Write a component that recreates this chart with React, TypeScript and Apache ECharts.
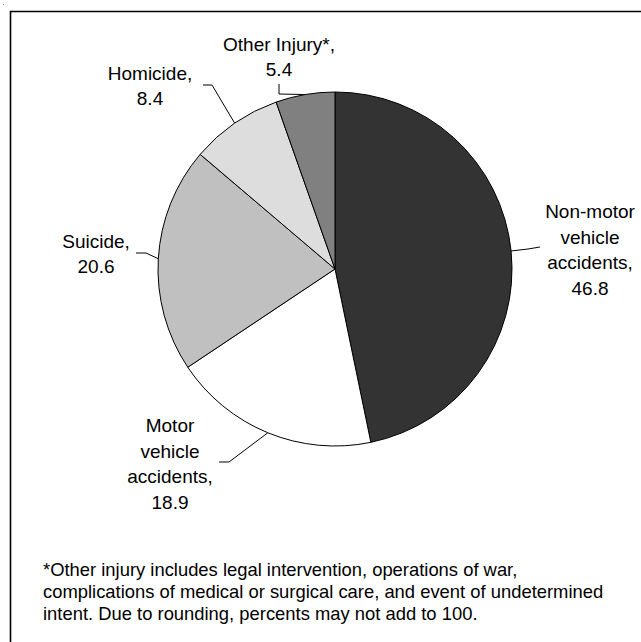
import React, { useEffect, useRef } from "react";
import * as echarts from "echarts";

const categories = [
  "Non-motor vehicle accidents",
  "Motor vehicle accidents",
  "Suicide",
  "Homicide",
  "Other Injury*",
];
const labelNames = [
  "Non-motor\nvehicle\naccidents",
  "Motor\nvehicle\naccidents",
  "Suicide",
  "Homicide",
  "Other Injury*",
];
const values = [46.8, 18.9, 20.6, 8.4, 5.4];
const sliceColors = ["#333333", "#ffffff", "#c0c0c0", "#dddddd", "#808080"];
const footnoteLines = [
  "*Other injury includes legal intervention, operations of war,",
  "complications of medical or surgical care, and event of undetermined",
  "intent. Due to rounding, percents may not add to 100.",
];

const CX = 335;
const CY = 269;
const R = 177;
const FONT = "'Liberation Sans', Arial, Helvetica, sans-serif";

// label block centre, and the leader line's bend and end points
const labelPlacement = [
  { x: 590, y: 250, bend: [528, 249], end: [540, 247] },
  { x: 170, y: 464, bend: [229, 462], end: [219, 462] },
  { x: 96, y: 254, bend: [146, 253], end: [136, 253] },
  { x: 150, y: 86, bend: [212, 85], end: [203, 85] },
  { x: 279, y: 57, bend: [279, 94], end: [279, 84] },
];

function edgePoint(i: number): number[] {
  const total = values.reduce((a, b) => a + b, 0);
  let before = 0;
  for (let k = 0; k < i; k++) before += values[k];
  const th = ((before + values[i] / 2) / total) * Math.PI * 2;
  return [CX + R * Math.sin(th), CY - R * Math.cos(th)];
}

export default function App() {
  const ref = useRef<HTMLDivElement>(null);
  useEffect(() => {
    if (!ref.current) return;
    const chart = echarts.init(ref.current, undefined, { renderer: "svg" });
    chart.setOption({
      animation: false,
      backgroundColor: "#ffffff",
      graphic: [
        {
          type: "rect",
          shape: { x: 10.5, y: 11.5, width: 700, height: 700 },
          style: { fill: "none", stroke: "#000", lineWidth: 1.6 },
          silent: true,
        },
        {
          type: "rect",
          shape: { x: 3, y: 4, width: 1, height: 1 },
          style: { fill: "#888" },
          silent: true,
        },
        {
          type: "text",
          left: 43,
          top: 558,
          style: {
            text: footnoteLines.join("\n"),
            fontSize: 18.4,
            fontFamily: FONT,
            lineHeight: 22,
            fill: "#000",
          },
          silent: true,
        },
      ],
      series: [
        {
          type: "pie",
          center: [CX, CY],
          radius: R,
          startAngle: 90,
          clockwise: true,
          avoidLabelOverlap: false,
          silent: true,
          emphasis: { disabled: true, scale: false },
          data: values.map((v, i) => ({
            name: categories[i],
            value: v,
            itemStyle: { color: sliceColors[i] },
          })),
          itemStyle: { borderColor: "#000", borderWidth: 1 },
          label: {
            show: true,
            position: "outside",
            formatter: (p: any) => `${labelNames[p.dataIndex]},\n${p.value}`,
            color: "#000",
            fontFamily: FONT,
            fontSize: 19,
            lineHeight: 25.5,
            align: "center",
          },
          labelLine: {
            show: true,
            length: 10,
            length2: 10,
            lineStyle: { color: "#000", width: 1 },
          },
          labelLayout: (params: any) => {
            const i = params.dataIndex;
            const pl = labelPlacement[i];
            const edge =
              params.labelLinePoints && params.labelLinePoints[0]
                ? [params.labelLinePoints[0][0], params.labelLinePoints[0][1]]
                : edgePoint(i);
            return {
              x: pl.x,
              y: pl.y,
              align: "center",
              verticalAlign: "middle",
              hideOverlap: false,
              labelLinePoints: [edge, pl.bend, pl.end],
            };
          },
        },
      ],
    });
    return () => chart.dispose();
  }, []);
  return (
    <div
      ref={ref}
      style={{ position: "absolute", left: 0, top: 0, width: 641, height: 642 }}
    />
  );
}
